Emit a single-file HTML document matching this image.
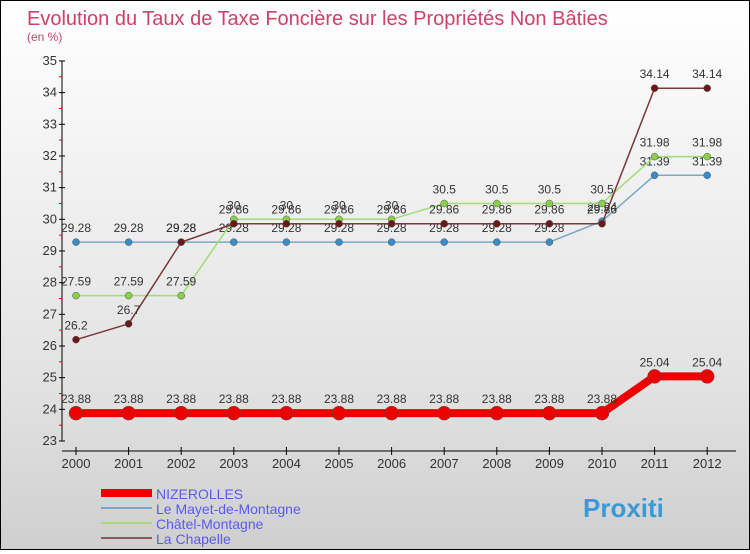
<!DOCTYPE html>
<html><head><meta charset="utf-8"><style>
body{margin:0}
#c{width:748px;height:548px;border:1px solid #000;background:linear-gradient(#fff,#f2f2f2 30%,#e2e2e2 70%,#cfcfcf);position:relative;font-family:"Liberation Sans",sans-serif}
</style></head><body>
<div id="c">
<svg id="s" width="748" height="548"></svg>
</div>
<script>
const years=[2000,2001,2002,2003,2004,2005,2006,2007,2008,2009,2010,2011,2012];
const nizerolles=[23.88,23.88,23.88,23.88,23.88,23.88,23.88,23.88,23.88,23.88,23.88,25.04,25.04];
const mayet=[29.28,29.28,29.28,29.28,29.28,29.28,29.28,29.28,29.28,29.28,29.94,31.39,31.39];
const chatel=[27.59,27.59,27.59,30,30,30,30,30.5,30.5,30.5,30.5,31.98,31.98];
const chapelle=[26.2,26.7,29.28,29.86,29.86,29.86,29.86,29.86,29.86,29.86,29.86,34.14,34.14];
const yTicks=[23,24,25,26,27,28,29,30,31,32,33,34,35];
const seriesNames=["NIZEROLLES","Le Mayet-de-Montagne","Châtel-Montagne","La Chapelle"];
const NS="http://www.w3.org/2000/svg",s=document.getElementById('s');
const X=i=>75+i*52.6, Y=v=>440-(v-23)*31.67;
function el(t,a,txt){const e=document.createElementNS(NS,t);for(const k in a)e.setAttribute(k,a[k]);if(txt!==undefined)e.textContent=txt;s.appendChild(e);return e;}
let t=el('text',{x:26,y:24,'font-size':20,fill:'#d0406a'},'Evolution du Taux de Taxe Foncière sur les Propriétés Non Bâties');

t=el('text',{x:26,y:40,'font-size':12,fill:'#d0406a'},'(en %)');

let a=el('line',{x1:61,y1:60,x2:61,y2:440,stroke:'#000'});

a=el('line',{x1:61,y1:450,x2:735,y2:450,stroke:'#000'});

yTicks.forEach((v,i)=>{
 el('line',{x1:58,y1:Y(v),x2:64,y2:Y(v),stroke:'#000'});
 if(i<yTicks.length-1)el('line',{x1:58,y1:Y(v+0.5),x2:61,y2:Y(v+0.5),stroke:'#e00'});
 const l=el('text',{x:56,y:Y(v)+4,'font-size':13,fill:'#333','text-anchor':'end'},v);
 
});
years.forEach((y,i)=>{
 el('line',{x1:X(i),y1:446,x2:X(i),y2:454,stroke:'#000'});
 const l=el('text',{x:X(i),y:467,'font-size':13,fill:'#333','text-anchor':'middle'},y);
 
});
function series(d,color,dot,w,r,name){
 const p=el('polyline',{points:d.map((v,i)=>X(i)+','+Y(v)).join(' '),fill:'none',stroke:color,'stroke-width':w});
 
 d.forEach((v,i)=>{
  const c=el('circle',{cx:X(i),cy:Y(v),r:r,fill:dot,stroke:'#555','stroke-width':0.5});
  
  const l=el('text',{x:X(i),y:Y(v)-10,'font-size':12,fill:'#333','text-anchor':'middle'},v);
  
 });
}
series(mayet,'#79a8c8','#3a8cc8',1.5,3.5,'mayet');
series(chatel,'#a0dc78','#88d048',1.5,3.5,'chatel');
series(chapelle,'#7a3838','#6a1818',1.5,3.5,'chapelle');
series(nizerolles,'#ee0000','#ee0000',8,7,'nizerolles');
const lc=['#ee0000','#79a8c8','#a0dc78','#8a5a5a'],lw=[8,2,2,2];
seriesNames.forEach((n,i)=>{
 const yy=492+i*15;
 const l=el('line',{x1:100,y1:yy,x2:151,y2:yy,stroke:lc[i],'stroke-width':lw[i]});
 
 const tx=el('text',{x:155,y:yy+6,'font-size':14,fill:'#5a5aee'},n);
 
});
const lg=el('text',{x:582,y:516,'font-size':26,'font-weight':'bold',fill:'#3a9ad8'},'Proxiti');

</script>
</body></html>
